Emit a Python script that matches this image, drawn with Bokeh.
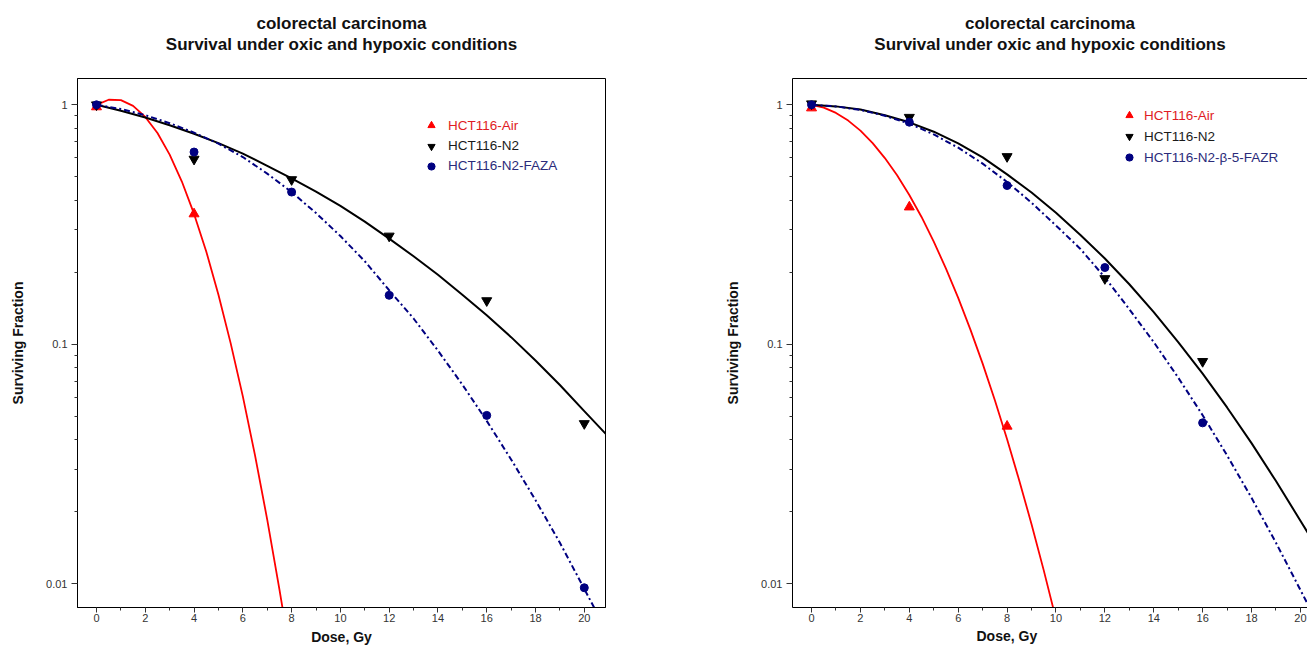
from bokeh.plotting import figure
from bokeh.models import (Range1d, FixedTicker, CustomJSTickFormatter, Title,
                          Legend, LegendItem, LinearAxis)
from bokeh.layouts import row
from bokeh.embed import file_html
from bokeh.resources import INLINE

# ---------------- data ----------------
TITLE_1 = "colorectal carcinoma"
TITLE_2 = "Survival under oxic and hypoxic conditions"
X_LABEL = "Dose, Gy"
Y_LABEL = "Surviving Fraction"

X_TICKS = [0, 2, 4, 6, 8, 10, 12, 14, 16, 18, 20]
X_MINOR = [1, 3, 5, 7, 9, 11, 13, 15, 17, 19]
Y_TICKS = [0.01, 0.1, 1]
Y_MINOR = [0.02, 0.03, 0.04, 0.05, 0.06, 0.07, 0.08, 0.09,
           0.2, 0.3, 0.4, 0.5, 0.6, 0.7, 0.8, 0.9]

# Left panel: measured points
L_AIR_DOSE = [0, 4]
L_AIR_SF = [0.98, 0.35]
L_N2_DOSE = [0, 4, 8, 12, 16, 20]
L_N2_SF = [1.0, 0.593, 0.487, 0.283, 0.152, 0.0466]
L_FAZA_DOSE = [0, 4, 8, 12, 16, 20]
L_FAZA_SF = [1.0, 0.635, 0.432, 0.16, 0.0504, 0.0096]

# Left panel: fitted curves
L_AIR_FIT_DOSE = [0, 0.5, 1, 1.5, 2, 2.5, 3, 3.5, 4, 4.5, 5, 5.5, 6, 6.5, 7, 7.5, 7.7]
L_AIR_FIT_SF = [1.0, 1.05, 1.046, 0.99, 0.89, 0.762, 0.619, 0.478, 0.35, 0.244,
                0.161, 0.101, 0.0605, 0.0343, 0.0185, 0.00946, 0.00713]
L_N2_FIT_DOSE = [0, 1, 2, 3, 4, 5, 6, 7, 8, 9, 10, 11, 12, 13, 14, 15, 16, 17, 18, 19, 20, 20.9]
L_N2_FIT_SF = [1.0, 0.945, 0.885, 0.822, 0.757, 0.692, 0.625, 0.556, 0.493, 0.434, 0.378,
               0.325, 0.276, 0.233, 0.195, 0.161, 0.132, 0.107, 0.0855, 0.0675, 0.0525, 0.042]
L_FAZA_FIT_DOSE = [0, 1, 2, 3, 4, 5, 6, 7, 8, 9, 10, 11, 12, 13, 14, 15, 16, 17, 18, 19, 20, 20.5]
L_FAZA_FIT_SF = [1.0, 0.96, 0.905, 0.838, 0.765, 0.688, 0.605, 0.516, 0.432, 0.353, 0.283,
                 0.222, 0.168, 0.128, 0.094, 0.0678, 0.0478, 0.033, 0.0223, 0.0148, 0.0095, 0.0076]

# Right panel: measured points
R_AIR_DOSE = [0, 4, 8]
R_AIR_SF = [0.97, 0.374, 0.0454]
R_N2_DOSE = [0, 4, 8, 12, 16]
R_N2_SF = [1.01, 0.887, 0.608, 0.188, 0.0847]
R_FAZR_DOSE = [0, 4, 8, 12, 16]
R_FAZR_SF = [1.0, 0.846, 0.46, 0.209, 0.0469]

# Right panel: fitted curves
R_AIR_FIT_DOSE = [0, 0.5, 1, 1.5, 2, 2.5, 3, 3.5, 4, 4.5, 5, 5.5, 6, 6.5, 7, 7.5, 8,
                  8.5, 9, 9.5, 10]
R_AIR_FIT_SF = [1.0, 0.973, 0.925, 0.859, 0.78, 0.692, 0.599, 0.508, 0.42, 0.34, 0.268,
                0.207, 0.156, 0.115, 0.0829, 0.0583, 0.0401, 0.0269, 0.0177, 0.01135, 0.0071]
R_N2_FIT_DOSE = [0, 1, 2, 3, 4, 5, 6, 7, 8, 9, 10, 11, 12, 13, 14, 15, 16, 17, 18, 19, 20, 20.3]
R_N2_FIT_SF = [1.0, 0.985, 0.955, 0.905, 0.845, 0.772, 0.69, 0.603, 0.512, 0.43, 0.354,
               0.286, 0.228, 0.178, 0.136, 0.102, 0.0753, 0.0544, 0.0386, 0.0268, 0.0183, 0.0163]
R_FAZR_FIT_DOSE = [0, 1, 2, 3, 4, 5, 6, 7, 8, 9, 10, 11, 12, 13, 14, 15, 16, 17, 18, 19, 20, 20.3]
R_FAZR_FIT_SF = [1.0, 0.985, 0.952, 0.9, 0.835, 0.752, 0.662, 0.568, 0.476, 0.39, 0.313,
                 0.25, 0.19, 0.14, 0.102, 0.0725, 0.0505, 0.0343, 0.0228, 0.0148, 0.0094, 0.0082]

L_NAMES = ["HCT116-Air", "HCT116-N2", "HCT116-N2-FAZA"]
R_NAMES = ["HCT116-Air", "HCT116-N2", "HCT116-N2-\u03b2-5-FAZR"]

# ---------------- style ----------------
FONT = "Liberation Sans"
RED = "#ff0000"
BLACK = "#000000"
NAVY = "#000080"
LEG_COLORS = ["#e01c24", "#1a1a1a", "#2b2b7a"]


def make_panel(width, border_right, x_end, names, pts, fits, leg_x, leg_rows,
               leg_standoff, full_frame):
    p = figure(width=width, height=647, title=None,
               x_range=Range1d(-0.779, x_end), y_range=Range1d(0.00794, 1.288),
               y_axis_type="log", output_backend="svg", toolbar_location=None,
               min_border_left=77, min_border_right=border_right,
               min_border_top=78, min_border_bottom=40)
    p.xgrid.visible = False
    p.ygrid.visible = False
    p.background_fill_color = "white"
    p.border_fill_color = "white"

    xa = p.below[0]
    ya = p.left[0]
    for ax in (xa, ya):
        ax.axis_line_color = "black"
        ax.major_tick_in = 0
        ax.minor_tick_in = 0
        ax.major_tick_line_color = "#333333"
        ax.minor_tick_line_color = "#333333"
        ax.major_label_text_font = FONT
        ax.major_label_text_font_size = "11px"
        ax.major_label_text_color = "#333333"
        ax.axis_label_text_font = FONT
        ax.axis_label_text_font_style = "bold"
        ax.axis_label_text_font_size = "14px"
        ax.axis_label_text_color = "#111111"

    xa.ticker = FixedTicker(ticks=X_TICKS, minor_ticks=X_MINOR)
    xa.major_tick_out = 5
    xa.minor_tick_out = 3
    xa.major_label_standoff = 1
    xa.axis_label_standoff = 4

    ya.ticker = FixedTicker(ticks=Y_TICKS, minor_ticks=Y_MINOR)
    ya.formatter = CustomJSTickFormatter(code="return tick.toString();")
    ya.major_tick_out = 6
    ya.minor_tick_out = 3
    ya.major_label_standoff = 4
    ya.axis_label = Y_LABEL
    ya.axis_label_standoff = 17

    if full_frame:
        p.outline_line_color = "black"
        p.outline_line_width = 1
        xa.axis_label = X_LABEL
    else:
        p.outline_line_color = None
        top = LinearAxis(ticker=FixedTicker(ticks=[]), major_label_text_font_size="0px",
                         major_label_standoff=0, major_tick_out=0, minor_tick_out=0,
                         major_tick_line_color=None, minor_tick_line_color=None,
                         axis_line_color="black")
        p.add_layout(top, "above")
        # axis title of the cut-off panel, centred where the full frame's centre would be
        p.add_layout(Title(text=X_LABEL, align="left", offset=184, standoff=2,
                           text_font=FONT, text_font_style="bold",
                           text_font_size="14px", text_color="#111111"), "below")

    # blank spacer between frame and the two title lines
    p.add_layout(Title(text=" ", standoff=4, text_font=FONT,
                       text_font_size="17px"), "above")
    p.add_layout(Title(text=TITLE_2, align="center", standoff=0, text_font=FONT,
                       text_font_style="bold", text_font_size="17px",
                       text_color="#111111"), "above")
    p.add_layout(Title(text=TITLE_1, align="center", standoff=0, text_font=FONT,
                       text_font_style="bold", text_font_size="17px",
                       text_color="#111111"), "above")

    (fa_d, fa_s), (fn_d, fn_s), (ff_d, ff_s) = fits
    p.line(fa_d, fa_s, line_color=RED, line_width=1.8)
    p.line(fn_d, fn_s, line_color=BLACK, line_width=2)
    p.line(ff_d, ff_s, line_color=NAVY, line_width=2, line_dash="6 3 2 3")

    (a_d, a_s), (n_d, n_s), (f_d, f_s) = pts
    ra = p.scatter(a_d, a_s, marker="triangle", size=10, fill_color=RED, line_color=RED)
    rn = p.scatter(n_d, n_s, marker="inverted_triangle", size=10, fill_color=BLACK,
                   line_color=BLACK)
    rf = p.scatter(f_d, f_s, marker="circle", size=8, fill_color=NAVY, line_color=NAVY)

    for r, name, col, ly in zip((ra, rn, rf), names, LEG_COLORS, leg_rows):
        leg = Legend(items=[LegendItem(label=name, renderers=[r])],
                     location=(leg_x, ly), glyph_width=18, glyph_height=18,
                     label_height=18, label_standoff=leg_standoff, padding=0, margin=0,
                     spacing=0, border_line_color=None, background_fill_alpha=0,
                     label_text_font=FONT, label_text_font_size="13.5px",
                     label_text_color=col)
        p.add_layout(leg)
    return p


p1 = make_panel(715, 110, 20.87, L_NAMES,
                [(L_AIR_DOSE, L_AIR_SF), (L_N2_DOSE, L_N2_SF), (L_FAZA_DOSE, L_FAZA_SF)],
                [(L_AIR_FIT_DOSE, L_AIR_FIT_SF), (L_N2_FIT_DOSE, L_N2_FIT_SF),
                 (L_FAZA_FIT_DOSE, L_FAZA_FIT_SF)],
                345, [473, 452.5, 432.5], 8, True)
p2 = make_panel(592, 0, 20.29, R_NAMES,
                [(R_AIR_DOSE, R_AIR_SF), (R_N2_DOSE, R_N2_SF), (R_FAZR_DOSE, R_FAZR_SF)],
                [(R_AIR_FIT_DOSE, R_AIR_FIT_SF), (R_N2_FIT_DOSE, R_N2_FIT_SF),
                 (R_FAZR_FIT_DOSE, R_FAZR_FIT_SF)],
                328, [483, 462, 441], 6, False)

layout = row(p1, p2)
open("out.html", "w").write(file_html(layout, INLINE))
